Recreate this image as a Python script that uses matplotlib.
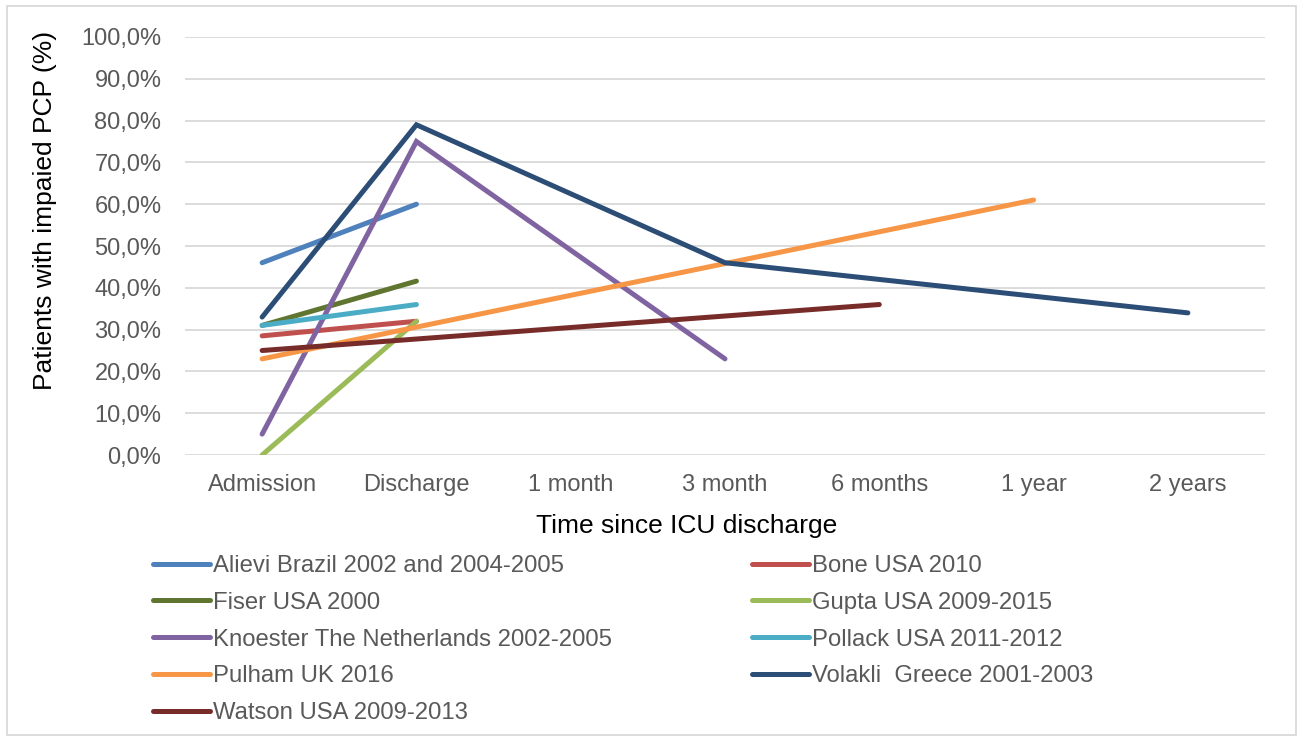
import matplotlib.pyplot as plt
import numpy as np
from matplotlib.patches import Rectangle

plt.rcParams['font.family'] = ['Liberation Sans', 'DejaVu Sans']

# time points on the x axis
timepoints = ['Admission', 'Discharge', '1 month', '3 month', '6 months', '1 year', '2 years']
ytick_vals = [0, 10, 20, 30, 40, 50, 60, 70, 80, 90, 100]
ytick_labels = ['0,0%', '10,0%', '20,0%', '30,0%', '40,0%', '50,0%',
                '60,0%', '70,0%', '80,0%', '90,0%', '100,0%']

# per-study percentages (None = not measured)
alievi   = [46, 60, None, None, None, None, None]
bone     = [28.5, 32, None, None, None, None, None]
fiser    = [31, 41.6, None, None, None, None, None]
gupta    = [0, 32, None, None, None, None, None]
knoester = [5, 75, None, 23, None, None, None]
pollack  = [31, 36, None, None, None, None, None]
pulham   = [23, None, None, None, None, 61, None]
volakli  = [33, 79, None, 46, None, None, 34]
watson   = [25, None, None, None, 36, None, None]

names = ['Alievi Brazil 2002 and 2004-2005', 'Bone USA 2010', 'Fiser USA 2000',
         'Gupta USA 2009-2015', 'Knoester The Netherlands 2002-2005',
         'Pollack USA 2011-2012', 'Pulham UK 2016', 'Volakli  Greece 2001-2003',
         'Watson USA 2009-2013']
series = [alievi, bone, fiser, gupta, knoester, pollack, pulham, volakli, watson]
colors = ['#4F81BD', '#C0504D', '#5F7530', '#9BBB59', '#8064A2',
          '#4BACC6', '#F79646', '#2C4D75', '#772C2A']

fig = plt.figure(figsize=(13.03, 7.40), dpi=100)
ax = fig.add_axes([185/1303, 1-455/740, 1080/1303, 418/740])

handles = []
for vals, name, c in zip(series, names, colors):
    x = np.array([i for i, v in enumerate(vals) if v is not None])
    y = np.array([v for v in vals if v is not None])
    h, = ax.plot(x, y, color=c, lw=3.6, solid_capstyle='round',
                 solid_joinstyle='miter', label=name)
    handles.append(h)

ax.set_xlim(-0.5, 6.5)
ax.set_ylim(0, 100)
ax.set_xticks(range(len(timepoints)))
ax.set_xticklabels(timepoints)
ax.set_yticks(ytick_vals)
ax.set_yticklabels(ytick_labels)
ax.tick_params(length=0, labelsize=17, colors='#595959')
ax.tick_params(axis='y', pad=17)
ax.tick_params(axis='x', pad=14)
ax.grid(axis='y', color='#D9D9D9', lw=1.3)
ax.set_axisbelow(True)
for s in ax.spines.values():
    s.set_visible(False)

ax.set_xlabel('Time since ICU discharge', fontsize=19)
ax.set_ylabel('Patients with impaied PCP (%)', fontsize=19)
ax.xaxis.set_label_coords((687-185)/1080, -(514-455)/418)
ax.yaxis.set_label_coords((57-185)/1080, (455-210)/418)

# two-column legend, row-major order
order = [0, 2, 4, 6, 8, 1, 3, 5, 7]
fig.legend([handles[i] for i in order], [names[i] for i in order],
           ncol=2, loc='upper left', bbox_to_anchor=(153/1303, 1-555/740),
           frameon=False, fontsize=17.2, labelcolor='#595959',
           handlelength=2.4, handletextpad=0.13, columnspacing=5.83,
           labelspacing=0.62, borderpad=0, borderaxespad=0)

fig.add_artist(Rectangle((7/1303, 5/740), 1289/1303, 729/740, transform=fig.transFigure,
                         fill=False, edgecolor='#D9D9D9', lw=1.3))

fig.savefig('out.png', dpi=100)
